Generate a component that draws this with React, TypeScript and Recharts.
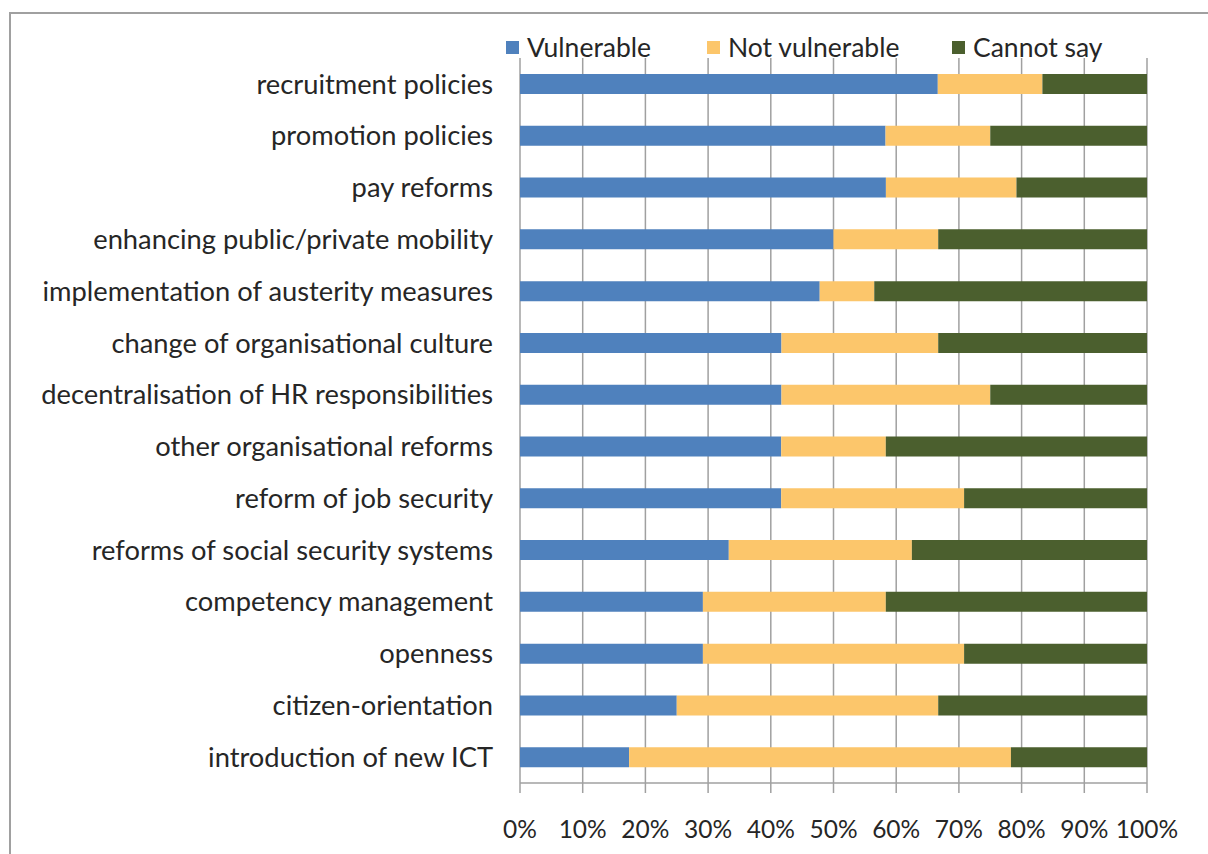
import { BarChart, Bar, XAxis, YAxis, CartesianGrid, Legend } from 'recharts'

const categories = [
  'recruitment policies',
  'promotion policies',
  'pay reforms',
  'enhancing public/private mobility',
  'implementation of austerity measures',
  'change of organisational culture',
  'decentralisation of HR responsibilities',
  'other organisational reforms',
  'reform of job security',
  'reforms of social security systems',
  'competency management',
  'openness',
  'citizen-orientation',
  'introduction of new ICT',
]

const vulnerable = [66.7, 58.3, 58.3, 50.0, 47.8, 41.7, 41.7, 41.7, 41.7, 33.3, 29.2, 29.2, 25.0, 17.4]
const notVulnerable = [16.7, 16.7, 20.8, 16.7, 8.7, 25.0, 33.3, 16.7, 29.2, 29.2, 29.2, 41.7, 41.7, 60.9]
const cannotSay = [16.7, 25.0, 20.8, 33.3, 43.5, 33.3, 25.0, 41.7, 29.2, 37.5, 41.7, 29.2, 33.3, 21.7]

const xTicks = [0, 0.1, 0.2, 0.3, 0.4, 0.5, 0.6, 0.7, 0.8, 0.9, 1]

const data = categories.map((name, i) => ({
  name,
  vulnerable: vulnerable[i],
  notVulnerable: notVulnerable[i],
  cannotSay: cannotSay[i],
}))

// boundaries between category bands, for the outside tick marks
const bandTicks = categories.map((_, i) => i).concat(categories.length)

const FONT = 'Lato, "Open Sans", sans-serif'
const GRAY = '#a0a0a0'
const TEXT = '#262626'

const series = [
  { key: 'vulnerable', label: 'Vulnerable', color: '#4f81bd', left: 506 },
  { key: 'notVulnerable', label: 'Not vulnerable', color: '#fcc66b', left: 707 },
  { key: 'cannotSay', label: 'Cannot say', color: '#4b5f2e', left: 952 },
]

function TopLegend() {
  return (
    <div style={{ position: 'relative', height: 32, fontFamily: FONT, fontSize: 26.5, color: TEXT }}>
      {series.map((s) => (
        <div
          key={s.key}
          style={{ position: 'absolute', left: s.left, top: 0, display: 'flex', alignItems: 'center', gap: 8 }}
        >
          <span style={{ width: 13, height: 13, background: s.color, display: 'inline-block' }} />
          <span>{s.label}</span>
        </div>
      ))}
    </div>
  )
}

export default function App() {
  return (
    <div style={{ position: 'fixed', inset: 0, overflow: 'hidden', background: '#fff' }}>
      <div
        style={{
          position: 'absolute',
          left: 9,
          top: 12,
          width: 1300,
          height: 950,
          border: `2px solid ${GRAY}`,
        }}
      />
      <div style={{ position: 'absolute', left: 0, top: 0 }}>
        <BarChart
          width={1208}
          height={854}
          data={data}
          layout="vertical"
          stackOffset="expand"
          barSize={20}
          margin={{ top: 58, right: 61, bottom: 0, left: 0 }}
        >
          <CartesianGrid horizontal={false} stroke={GRAY} strokeWidth={1.5} />
          <XAxis
            type="number"
            domain={[0, 1]}
            ticks={xTicks}
            tickFormatter={(v: number) => `${Math.round(v * 100)}%`}
            height={71}
            tickSize={10}
            tickMargin={28}
            axisLine={{ stroke: GRAY, strokeWidth: 1.5 }}
            tickLine={{ stroke: GRAY, strokeWidth: 1.5 }}
            tick={{ fill: TEXT, fontSize: 24.5, fontFamily: FONT }}
            interval={0}
          />
          <YAxis
            yAxisId="bands"
            type="number"
            domain={[0, categories.length]}
            ticks={bandTicks}
            width={0}
            tick={false}
            tickSize={17}
            axisLine={{ stroke: GRAY, strokeWidth: 1.5 }}
            tickLine={{ stroke: GRAY, strokeWidth: 1.5 }}
            interval={0}
          />
          <YAxis
            yAxisId="cat"
            type="category"
            dataKey="name"
            width={520}
            tickSize={0}
            tickMargin={27}
            axisLine={false}
            tickLine={false}
            tick={{ fill: TEXT, fontSize: 27.3, fontFamily: FONT }}
            interval={0}
          />
          <Legend
            layout="horizontal"
            verticalAlign="middle"
            align="center"
            wrapperStyle={{ top: 31, left: 0, width: 1208 }}
            content={<TopLegend />}
          />
          {series.map((s) => (
            <Bar
              key={s.key}
              yAxisId="cat"
              dataKey={s.key}
              name={s.label}
              stackId="a"
              fill={s.color}
              isAnimationActive={false}
            />
          ))}
        </BarChart>
      </div>
    </div>
  )
}
